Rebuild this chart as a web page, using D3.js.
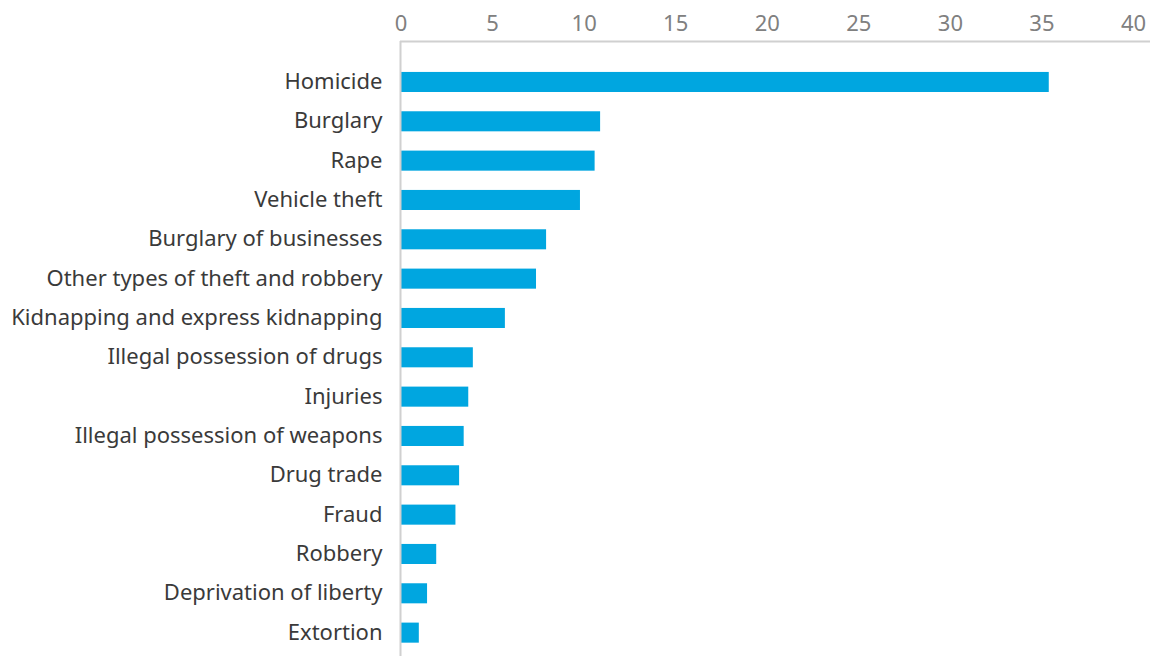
<!DOCTYPE html>
<html><head><meta charset="utf-8">
<script src="https://cdn.jsdelivr.net/npm/d3@7"></script>
<style>
html,body{margin:0;padding:0;background:#fff;}
svg{display:block;font-family:"Noto Sans","Open Sans",sans-serif;}
</style></head>
<body>
<svg id="chart" width="1150" height="656"></svg>
<script>
const categories = ["Homicide","Burglary","Rape","Vehicle theft","Burglary of businesses","Other types of theft and robbery","Kidnapping and express kidnapping","Illegal possession of drugs","Injuries","Illegal possession of weapons","Drug trade","Fraud","Robbery","Deprivation of liberty","Extortion"];
const values = [35.4,10.9,10.6,9.8,7.95,7.4,5.7,3.95,3.7,3.45,3.2,3.0,1.95,1.45,1.0];
const tickValues = [0,5,10,15,20,25,30,35,40];

const svg = d3.select("#chart");
const x = d3.scaleLinear().domain([0,40]).range([400.5,1133]);
const y = d3.scaleBand().domain(categories).range([62.3,652.3]).paddingInner(0.49).paddingOuter(0.245);

// bars
svg.append("g").selectAll("rect").data(categories).join("rect")
  .attr("x", x(0))
  .attr("y", d => y(d))
  .attr("width", (d,i) => x(values[i]) - x(0))
  .attr("height", y.bandwidth())
  .attr("fill", "#00a6e0");

// top axis
const xAxis = svg.append("g").attr("transform","translate(0,41.5)")
  .call(d3.axisTop(x).tickValues(tickValues).tickSize(0).tickPadding(10.5));
xAxis.select(".domain").remove();
xAxis.selectAll("text").attr("fill","#808080").style("font-size","22px").style("font-family","'Noto Sans','Open Sans',sans-serif");
svg.append("line").attr("x1",400).attr("x2",1150).attr("y1",41.5).attr("y2",41.5)
  .attr("stroke","#d0d0d0").attr("stroke-width",2);

// left axis
const yAxis = svg.append("g").attr("transform",`translate(${x(0)},0)`)
  .call(d3.axisLeft(y).tickSize(0).tickPadding(18));
yAxis.select(".domain").remove();
yAxis.selectAll("text").attr("fill","#3a3a3a").style("font-size","22px").style("font-family","'Noto Sans','Open Sans',sans-serif");
svg.append("line").attr("x1",400.5).attr("x2",400.5).attr("y1",41).attr("y2",656)
  .attr("stroke","#d0d0d0").attr("stroke-width",2);
</script>
</body></html>
